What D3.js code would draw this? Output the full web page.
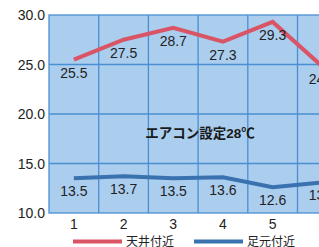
<!DOCTYPE html>
<html>
<head>
<meta charset="utf-8">
<script src="https://cdn.jsdelivr.net/npm/d3@7"></script>
<style>
  html, body { margin: 0; padding: 0; background: #fff; }
  svg { display: block; font-family: "Liberation Sans", "Noto Sans CJK JP", sans-serif; }
</style>
</head>
<body>
<svg id="chart" width="319" height="247"></svg>
<script>
// data
const categories = ['1', '2', '3', '4', '5', '6', '7'];
const ceiling = [25.5, 27.5, 28.7, 27.3, 29.3, 24.8];
const floor   = [13.5, 13.7, 13.5, 13.6, 12.6, 13.1];
const yTicks  = [10, 15, 20, 25, 30];
const seriesNames = ['天井付近', '足元付近'];
const noteText = 'エアコン設定28℃';

const svg = d3.select('#chart');

const plotLeft = 49, plotTop = 15, plotBottom = 213, step = 49.7;

const x = d3.scaleBand()
  .domain(categories)
  .range([plotLeft, plotLeft + step * categories.length])
  .paddingInner(0).paddingOuter(0);

const y = d3.scaleLinear().domain([10, 30]).range([plotBottom, plotTop]);

const gridColor = '#4a8fd2';

// plot background
svg.append('rect')
  .attr('x', plotLeft).attr('y', plotTop)
  .attr('width', step * categories.length)
  .attr('height', plotBottom - plotTop)
  .attr('fill', '#abcdee')
  .attr('stroke', gridColor)
  .attr('stroke-width', 1.3);

// horizontal grid
svg.selectAll('.hgrid')
  .data(yTicks.slice(1, -1))
  .join('line')
  .attr('x1', plotLeft).attr('x2', plotLeft + step * categories.length)
  .attr('y1', d => y(d)).attr('y2', d => y(d))
  .attr('stroke', gridColor).attr('stroke-width', 1.3);

// vertical grid
svg.selectAll('.vgrid')
  .data(categories.slice(1))
  .join('line')
  .attr('x1', d => x(d)).attr('x2', d => x(d))
  .attr('y1', plotTop).attr('y2', plotBottom)
  .attr('stroke', gridColor).attr('stroke-width', 1.3);

// y labels
svg.selectAll('.ylab')
  .data(yTicks)
  .join('text')
  .attr('x', 45)
  .attr('y', d => y(d))
  .attr('dy', '0.36em')
  .attr('text-anchor', 'end')
  .attr('font-size', 14)
  .attr('fill', '#222')
  .text(d => d.toFixed(1));

// x labels
svg.selectAll('.xlab')
  .data(categories)
  .join('text')
  .attr('x', d => x(d) + x.bandwidth() / 2)
  .attr('y', 229)
  .attr('text-anchor', 'middle')
  .attr('font-size', 14)
  .attr('fill', '#222')
  .text(d => d);

const cx = (d, i) => x(categories[i]) + x.bandwidth() / 2;
const line = d3.line().x(cx).y(d => y(d));

const series = [
  { name: seriesNames[0], values: ceiling, color: '#d95565' },
  { name: seriesNames[1], values: floor,   color: '#3a72b0' }
];

series.forEach(s => {
  svg.append('path')
    .datum(s.values)
    .attr('d', line)
    .attr('fill', 'none')
    .attr('stroke', s.color)
    .attr('stroke-width', 4)
    .attr('stroke-linejoin', 'miter');

  svg.selectAll(null)
    .data(s.values)
    .join('text')
    .attr('x', cx)
    .attr('y', d => y(d) + 18)
    .attr('text-anchor', 'middle')
    .attr('font-size', 14)
    .attr('fill', '#222')
    .text(d => d.toFixed(1));
});

// note
svg.append('text')
  .attr('x', 200).attr('y', 138)
  .attr('text-anchor', 'middle')
  .attr('font-size', 13.5)
  .attr('font-weight', 'bold')
  .attr('fill', '#1a1a1a')
  .text(noteText);

// legend
const legendX = [73, 194];
series.forEach((s, i) => {
  svg.append('line')
    .attr('x1', legendX[i]).attr('x2', legendX[i] + 49)
    .attr('y1', 241.5).attr('y2', 241.5)
    .attr('stroke', s.color).attr('stroke-width', 4);
  svg.append('text')
    .attr('x', legendX[i] + 53).attr('y', 246)
    .attr('font-size', 12)
    .attr('fill', '#222')
    .text(s.name);
});
</script>
</body>
</html>
